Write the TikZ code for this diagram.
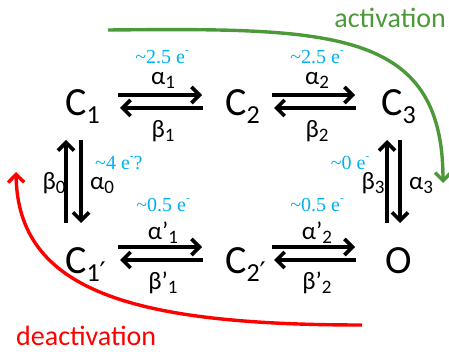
\documentclass[tikz,border=0pt]{standalone}
\usepackage{fontspec}
\setmainfont{Carlito}
\newfontfamily\bluefont{Liberation Serif}
\newfontfamily\symfont{DejaVu Sans}
\usetikzlibrary{arrows.meta}
\definecolor{actgreen}{RGB}{76,153,57}
\definecolor{eblue}{RGB}{0,176,240}
\newcommand{\csub}[1]{\raisebox{-8pt}{\fontsize{26}{26}\selectfont #1}}
\newcommand{\lsub}[1]{\raisebox{-4pt}{\fontsize{19}{19}\selectfont #1}}
\newcommand{\eminus}{\raisebox{10pt}{\fontsize{11}{11}\selectfont -}}
\newcommand{\cprime}{{\symfont\fontsize{27}{27}\selectfont\char"2032}}
\begin{document}
\begin{tikzpicture}[x=1pt,y=-1pt,
  state/.style={inner sep=0pt,anchor=base west,font=\fontsize{40}{40}\selectfont},
  rate/.style={inner sep=0pt,anchor=base,text height=14pt,font=\fontsize{25}{25}\selectfont},
  elabel/.style={inner sep=0pt,anchor=base,text depth=0pt,text=eblue,font=\bluefont\fontsize{20}{20}\selectfont},
  rx/.style={line width=3.6pt,-{Straight Barb[length=8pt,width=16pt]}},
  flow/.style={line width=3.4pt,-{Straight Barb[length=8pt,width=16pt]}}]
\useasboundingbox (0,0) rectangle (449,352);
% states
\node[state] (c1) at (65,116) {C\csub{1}};
\node[state] (c2) at (225,116) {C\csub{2}};
\node[state] (c3) at (381,116) {C\csub{3}};
\node[state] (c1p) at (65,273) {C\csub{1\cprime}};
\node[state] (c2p) at (225,273) {C\csub{2\cprime}};
\node[state] (o) at (385,273) {O};
% arrow end points
\coordinate (a1s) at (118,95);  \coordinate (a1e) at (202,95);
\coordinate (b1s) at (203,108); \coordinate (b1e) at (120,108);
\coordinate (a2s) at (272,95);  \coordinate (a2e) at (355,95);
\coordinate (b2s) at (356,108); \coordinate (b2e) at (274,108);
\coordinate (a1ps) at (118,247);  \coordinate (a1pe) at (202,247);
\coordinate (b1ps) at (203,260); \coordinate (b1pe) at (120,260);
\coordinate (a2ps) at (272,247);  \coordinate (a2pe) at (355,247);
\coordinate (b2ps) at (356,260); \coordinate (b2pe) at (274,260);
\coordinate (b0s) at (66,223); \coordinate (b0e) at (66,140);
\coordinate (a0s) at (81,140); \coordinate (a0e) at (81,223);
\coordinate (b3s) at (387,223); \coordinate (b3e) at (387,140);
\coordinate (a3s) at (400,140); \coordinate (a3e) at (400,223);
\draw[rx] (a1s) -- (a1e);
\draw[rx] (b1s) -- (b1e);
\draw[rx] (a2s) -- (a2e);
\draw[rx] (b2s) -- (b2e);
\draw[rx] (a1ps) -- (a1pe);
\draw[rx] (b1ps) -- (b1pe);
\draw[rx] (a2ps) -- (a2pe);
\draw[rx] (b2ps) -- (b2pe);
\draw[rx] (b0s) -- (b0e);
\draw[rx] (a0s) -- (a0e);
\draw[rx] (b3s) -- (b3e);
\draw[rx] (a3s) -- (a3e);
% rate labels
\node[rate] (la1) at (163,85) {α\lsub{1}};
\node[rate] (lb1) at (163,138) {β\lsub{1}};
\node[rate] (la2) at (317,85) {α\lsub{2}};
\node[rate] (lb2) at (317,138) {β\lsub{2}};
\node[rate] (la1p) at (163,240) {α\char"27\lsub{1}};
\node[rate] (lb1p) at (163,289) {β\char"27\lsub{1}};
\node[rate] (la2p) at (317,240) {α\char"27\lsub{2}};
\node[rate] (lb2p) at (317,289) {β\char"27\lsub{2}};
\node[rate] (lb0) at (54,190) {β\lsub{0}};
\node[rate] (la0) at (102,190) {α\lsub{0}};
\node[rate] (lb3) at (373,190) {β\lsub{3}};
\node[rate] (la3) at (421,190) {α\lsub{3}};
% electron labels
\node[elabel] (e1) at (162,64) {\textasciitilde2.5 e\eminus};
\node[elabel] (e2) at (317,64) {\textasciitilde2.5 e\eminus};
\node[elabel,anchor=base west] (e0) at (95,170) {\textasciitilde4 e\eminus?};
\node[elabel] (e3) at (350,170) {\textasciitilde0 e\eminus};
\node[elabel] (e1p) at (163,212) {\textasciitilde0.5 e\eminus};
\node[elabel] (e2p) at (317,212) {\textasciitilde0.5 e\eminus};
% activation / deactivation
\node[inner sep=0pt,anchor=base east,text=actgreen,font=\fontsize{28}{28}\selectfont] (act) at (446,28) {activation};
\node[inner sep=0pt,anchor=base west,text=red,font=\fontsize{28}{28}\selectfont] (deact) at (16,345) {deactivation};
\coordinate (gs) at (108,30); \coordinate (ge) at (443,183);
\coordinate (rs) at (362,325); \coordinate (re) at (16,172);
\draw[flow,actgreen] (gs) .. controls (330,28) and (443,28) .. (ge);
\draw[flow,red] (rs) .. controls (130,325) and (18,290) .. (re);
\end{tikzpicture}
\end{document}
